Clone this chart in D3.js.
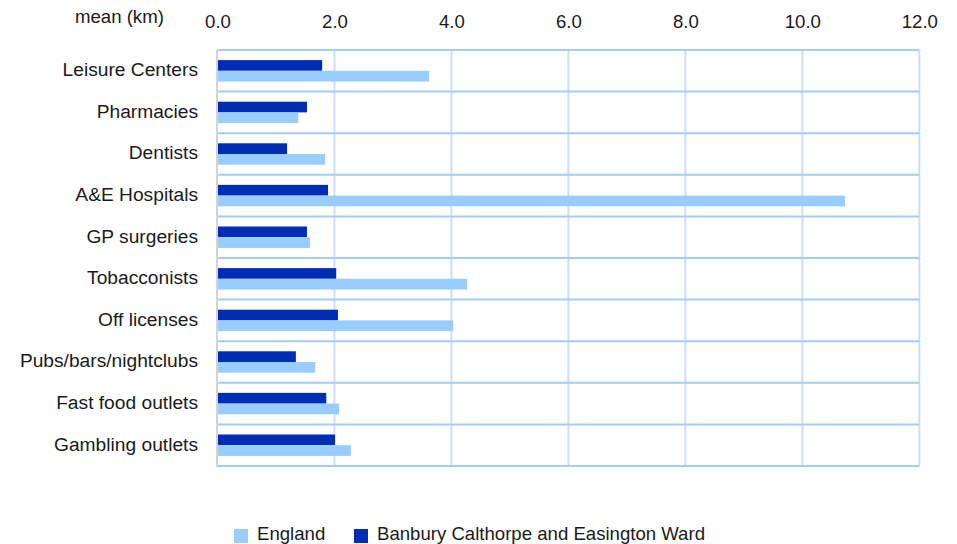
<!DOCTYPE html>
<html><head><meta charset="utf-8">
<script src="https://cdn.jsdelivr.net/npm/d3@7"></script>
<style>body{margin:0;background:#fff}svg{display:block;font-family:"Liberation Sans",Arial,sans-serif}</style>
</head><body>
<svg id="c" width="957" height="544"></svg>
<script>
const categories = ["Leisure Centers","Pharmacies","Dentists","A&E Hospitals","GP surgeries","Tobacconists","Off licenses","Pubs/bars/nightclubs","Fast food outlets","Gambling outlets"];
const wardValues = [1.79,1.53,1.19,1.89,1.53,2.03,2.06,1.34,1.86,2.01];
const englandValues = [3.62,1.38,1.84,10.73,1.58,4.27,4.03,1.67,2.08,2.28];
const xTicks = [0,2,4,6,8,10,12];
const seriesNames = ["England","Banbury Calthorpe and Easington Ward"];
const colors = {England:"#99ccff", Ward:"#002db3"};

(function(){
const svg = d3.select("#c");
const fs = 18.6;
const pL = 217.5, pR = 919.3, pT = 50, pB = 466;
const x = d3.scaleLinear().domain([0,12]).range([pL,pR]);
const y = d3.scaleBand().domain(categories).range([pT,pB]);

svg.append("g").selectAll("line").data(xTicks.slice(1)).join("line")
  .attr("x1",d=>x(d)).attr("x2",d=>x(d)).attr("y1",pT).attr("y2",pB)
  .attr("stroke","#cddff5").attr("stroke-width",2);
const hl = d3.range(categories.length+1).map(i=>pT+i*y.step());
svg.append("g").selectAll("line").data(hl).join("line")
  .attr("x1",pL).attr("x2",pR).attr("y1",d=>d).attr("y2",d=>d)
  .attr("stroke","#a3cdf7").attr("stroke-width",2);
svg.append("line").attr("x1",pL-0.5).attr("x2",pL-0.5).attr("y1",pT).attr("y2",pB+1)
  .attr("stroke","#d4d4d4").attr("stroke-width",2);

const bh = 10.7;
const g = svg.append("g");
g.selectAll("rect.w").data(categories).join("rect").attr("class","w")
  .attr("x",x(0)+0.5).attr("y",d=>y(d)+y.step()/2-bh)
  .attr("width",(d,i)=>x(wardValues[i])-x(0)-0.5).attr("height",bh).attr("fill",colors.Ward);
g.selectAll("rect.e").data(categories).join("rect").attr("class","e")
  .attr("x",x(0)+0.5).attr("y",d=>y(d)+y.step()/2)
  .attr("width",(d,i)=>x(englandValues[i])-x(0)-0.5).attr("height",bh).attr("fill",colors.England);

const xa = d3.axisTop(x).tickValues(xTicks).tickFormat(d3.format(".1f")).tickSize(0).tickPadding(0);
const ax = svg.append("g").attr("transform","translate(0,28)").call(xa);
ax.select(".domain").remove();
ax.selectAll("text").attr("font-size",fs).attr("fill","#1a1a1a").attr("font-family","Liberation Sans, Arial, sans-serif");

svg.append("text").attr("x",75).attr("y",23)
  .attr("font-size",fs).attr("fill","#1a1a1a").text("mean (km)");

svg.append("g").selectAll("text").data(categories).join("text")
  .attr("x",198).attr("y",d=>y(d)+y.step()/2+5.3).attr("text-anchor","end")
  .attr("font-size",19.2).attr("fill","#1a1a1a").text(d=>d);

const leg = [{n:seriesNames[0],c:colors.England,x:234},{n:seriesNames[1],c:colors.Ward,x:354}];
const lg = svg.append("g").selectAll("g").data(leg).join("g");
lg.append("rect").attr("x",d=>d.x).attr("y",529).attr("width",14).attr("height",14).attr("fill",d=>d.c);
lg.append("text").attr("x",d=>d.x+23).attr("y",540).attr("font-size",fs).attr("fill","#1a1a1a").text(d=>d.n);
})();
</script>
</body></html>
